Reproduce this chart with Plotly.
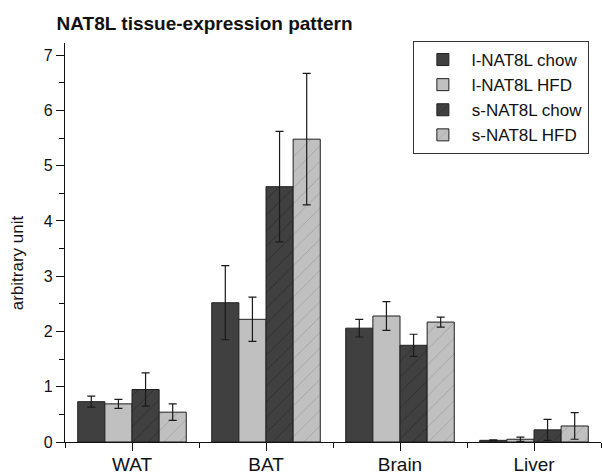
import plotly.graph_objects as go

# Tissues and group-wise means / SEM
tissues = ["WAT", "BAT", "Brain", "Liver"]
series_names = ["l-NAT8L chow", "l-NAT8L HFD", "s-NAT8L chow", "s-NAT8L HFD"]

l_chow = [0.73, 2.52, 2.06, 0.03]
l_chow_err = [0.10, 0.67, 0.16, 0.01]
l_hfd = [0.69, 2.22, 2.28, 0.05]
l_hfd_err = [0.08, 0.40, 0.26, 0.04]
s_chow = [0.95, 4.62, 1.75, 0.22]
s_chow_err = [0.30, 1.00, 0.20, 0.19]
s_hfd = [0.54, 5.48, 2.17, 0.29]
s_hfd_err = [0.15, 1.19, 0.09, 0.24]

values = [l_chow, l_hfd, s_chow, s_hfd]
errors = [l_chow_err, l_hfd_err, s_chow_err, s_hfd_err]
fills = ["#404040", "#c0c0c0", "#404040", "#c0c0c0"]
hatch = ["", "", "/", "/"]
hatch_fg = ["#404040", "#c0c0c0", "#1a1a1a", "#858585"]

x_pos = list(range(len(tissues)))

fig = go.Figure()
for name, vals, errs, col, shp, fg in zip(series_names, values, errors, fills, hatch, hatch_fg):
    fig.add_trace(go.Bar(
        name=name,
        x=x_pos,
        y=vals,
        error_y=dict(type="data", array=errs, visible=True,
                     color="#1a1a1a", thickness=1.2, width=4),
        marker=dict(
            color=col,
            line=dict(color="#202020", width=1),
            pattern=dict(shape=shp, bgcolor=col, fgcolor=fg,
                         size=11, solidity=0.08, fillmode="overlay"),
        ),
    ))

fig.update_layout(
    width=602, height=474,
    margin=dict(l=65, r=1, t=43, b=32, autoexpand=False),
    paper_bgcolor="white", plot_bgcolor="white",
    barmode="group", bargap=0.19, bargroupgap=0,
    font=dict(family="Liberation Sans, Arial, sans-serif", color="#111"),
    title=dict(text="<b>NAT8L tissue-expression pattern</b>",
               x=0.094, xanchor="left", y=0.951, yanchor="middle",
               font=dict(size=19, color="#111")),
    showlegend=True,
    legend=dict(x=0.649, xanchor="left", y=1.005, yanchor="top",
                bordercolor="#333", borderwidth=1, bgcolor="white",
                font=dict(size=17, color="#111"),
                tracegroupgap=0, itemwidth=48),
    xaxis=dict(
        range=[-0.5, 3.5], tickmode="array", tickvals=x_pos, ticktext=tissues,
        automargin=False,
        showline=True, linecolor="#111", linewidth=1.2, mirror=False,
        ticks="outside", ticklen=8, tickcolor="#111", tickwidth=1.2,
        ticklabelstandoff=-3,
        tickfont=dict(size=19, color="#111"), showgrid=False, zeroline=False,
        minor=dict(tick0=0.5, dtick=1, ticks="outside", ticklen=5,
                   tickcolor="#111", tickwidth=1.2, showgrid=False),
    ),
    yaxis=dict(
        range=[0, 7.22], tick0=0, dtick=1, automargin=False,
        showline=True, linecolor="#111", linewidth=1.2,
        ticks="outside", ticklen=8, tickcolor="#111", tickwidth=1.2,
        tickfont=dict(size=16, color="#111"), showgrid=False, zeroline=False,
        minor=dict(dtick=0.5, ticks="outside", ticklen=5,
                   tickcolor="#111", tickwidth=1.2, showgrid=False),
    ),
    annotations=[dict(
        text="arbitrary unit", textangle=-90, showarrow=False,
        xref="paper", yref="paper", x=-0.088, y=0.45,
        xanchor="center", yanchor="middle",
        font=dict(size=17, color="#111"),
    )],
)

fig.write_html("out.html")
